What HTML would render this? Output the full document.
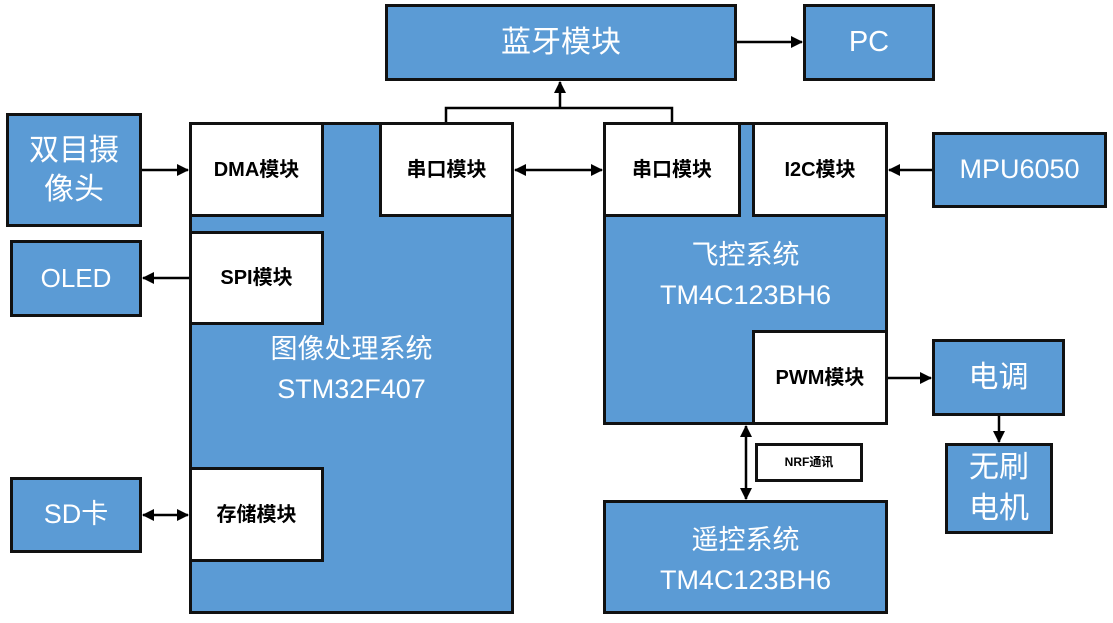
<!DOCTYPE html>
<html><head><meta charset="utf-8"><style>
body{margin:0;width:1113px;height:623px;background:#fff;position:relative;overflow:hidden;font-family:"Liberation Sans","Noto Sans CJK SC",sans-serif}
.b{position:absolute;box-sizing:border-box;border:3px solid #111;background:#5b9bd5;color:#fff;display:flex;align-items:center;justify-content:center;text-align:center;font-size:29px;line-height:1.3}
.w{background:#fff;color:#000;font-weight:bold;font-size:20px}
.t{position:absolute;color:#fff;text-align:center;font-size:27px;line-height:40px}
svg{position:absolute;left:0;top:0}
</style></head><body>
<div class="b" style="left:385px;top:4px;width:352px;height:77px;font-size:30px">蓝牙模块</div>
<div class="b" style="left:803px;top:4px;width:132px;height:77px">PC</div>
<div class="b" style="left:6px;top:113px;width:136px;height:114px;font-size:30px">双目摄<br>像头</div>
<div class="b" style="left:10px;top:240px;width:132px;height:77px;font-size:26px">OLED</div>
<div class="b" style="left:10px;top:477px;width:132px;height:76px;font-size:27px">SD卡</div>

<div class="b" style="left:189px;top:122px;width:325px;height:492px"></div>
<div class="t" style="left:189px;top:329px;width:325px">图像处理系统<br>STM32F407</div>
<div class="b w" style="left:189px;top:122px;width:135px;height:95px">DMA模块</div>
<div class="b w" style="left:379px;top:122px;width:135px;height:95px">串口模块</div>
<div class="b w" style="left:189px;top:231px;width:135px;height:94px">SPI模块</div>
<div class="b w" style="left:189px;top:467px;width:135px;height:95px">存储模块</div>

<div class="b" style="left:603px;top:122px;width:285px;height:303px"></div>
<div class="t" style="left:603px;top:235px;width:285px">飞控系统<br>TM4C123BH6</div>
<div class="b w" style="left:603px;top:122px;width:138px;height:95px">串口模块</div>
<div class="b w" style="left:752px;top:122px;width:136px;height:95px">I2C模块</div>
<div class="b w" style="left:752px;top:330px;width:136px;height:95px">PWM模块</div>

<div class="b" style="left:932px;top:132px;width:175px;height:76px;font-size:27px">MPU6050</div>
<div class="b" style="left:932px;top:339px;width:133px;height:77px;font-size:30px">电调</div>
<div class="b" style="left:945px;top:443px;width:108px;height:91px;line-height:1.35;font-size:30px">无刷<br>电机</div>
<div class="b w" style="left:755px;top:443px;width:108px;height:39px;font-size:12px">NRF通讯</div>
<div class="b" style="left:603px;top:500px;width:285px;height:114px"></div>
<div class="t" style="left:603px;top:520px;width:285px">遥控系统<br>TM4C123BH6</div>

<svg width="1113" height="623">
<defs><marker id="a" markerWidth="12" markerHeight="12" refX="11" refY="6" orient="auto-start-reverse" markerUnits="userSpaceOnUse"><path d="M0,0 L12,6 L0,12 z" fill="#000"/></marker></defs>
<g stroke="#000" stroke-width="2.5" fill="none">
<polyline points="446,122 446,108 672,108 672,122"/>
<line x1="560" y1="108" x2="560" y2="82" marker-end="url(#a)"/>
<line x1="737" y1="42" x2="802" y2="42" marker-end="url(#a)"/>
<line x1="142" y1="170" x2="188" y2="170" marker-end="url(#a)"/>
<line x1="189" y1="278" x2="143" y2="278" marker-end="url(#a)"/>
<line x1="143" y1="515" x2="188" y2="515" marker-start="url(#a)" marker-end="url(#a)"/>
<line x1="515" y1="170" x2="602" y2="170" marker-start="url(#a)" marker-end="url(#a)"/>
<line x1="932" y1="170" x2="889" y2="170" marker-end="url(#a)"/>
<line x1="888" y1="378" x2="931" y2="378" marker-end="url(#a)"/>
<line x1="999" y1="416" x2="999" y2="442" marker-end="url(#a)"/>
<line x1="746" y1="426" x2="746" y2="499" marker-start="url(#a)" marker-end="url(#a)"/>
</g></svg>
</body></html>
